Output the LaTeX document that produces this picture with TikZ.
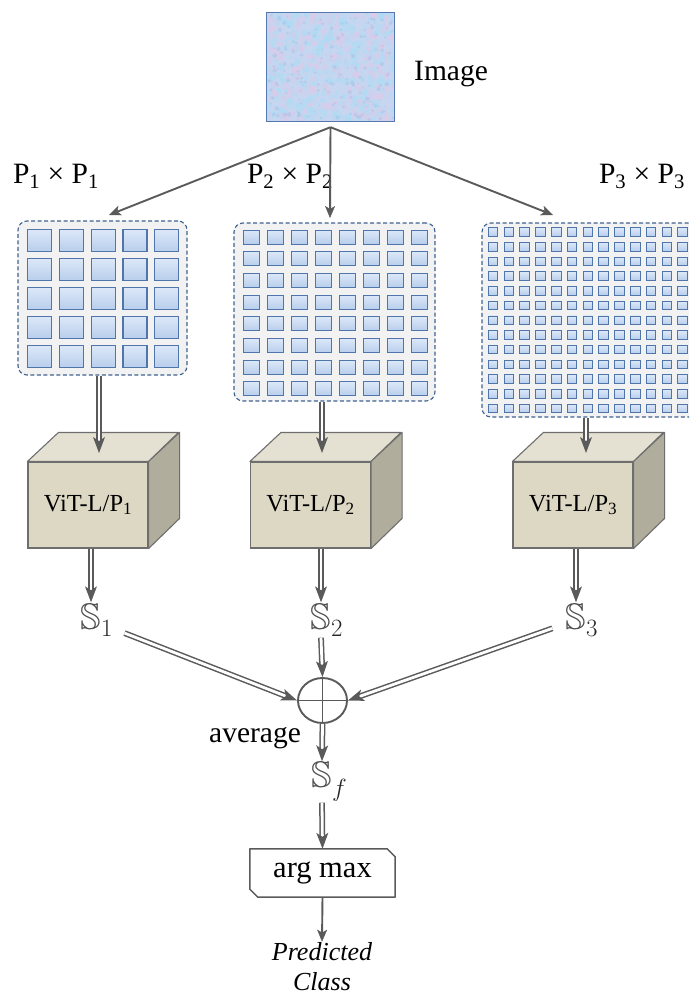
\documentclass[tikz,border=0pt]{standalone}
\usepackage{amssymb}
\usepackage{mathtools}
\usepackage{fontspec}
\setmainfont{Liberation Serif}
\usetikzlibrary{arrows.meta,shapes.geometric,calc,decorations.markings}
\definecolor{ag}{HTML}{5A5A5A}
\definecolor{boxb}{HTML}{3E6290}
\definecolor{boxf}{HTML}{F2F2F2}
\definecolor{sqb}{HTML}{4F75AA}
\definecolor{sqt}{HTML}{DCE8F8}
\definecolor{sqd}{HTML}{B8CEEC}
\definecolor{cfront}{HTML}{DDD8C4}
\definecolor{ctop}{HTML}{E4E1D2}
\definecolor{cside}{HTML}{B1AD9D}
\definecolor{cedge}{HTML}{6E6E6E}
\definecolor{imgb}{HTML}{5578B0}
\definecolor{imgf}{HTML}{C6D6F0}
\definecolor{blobA}{HTML}{ADDCF4}
\definecolor{blobB}{HTML}{E2C8E8}
\definecolor{blobC}{HTML}{9FB8E2}
\definecolor{symc}{HTML}{505050}
\tikzset{
  lbl/.style={font=\fontsize{29.5}{33}\selectfont, inner sep=1pt},
  pbox/.style={draw=boxb, fill=boxf, line width=1.1pt, dash pattern=on 4pt off 2.5pt, rounded corners=9pt, inner sep=0pt},
  sqr/.style={draw=sqb, line width=1pt, top color=sqt, bottom color=sqd, inner sep=0pt},
  cubefront/.style={draw=cedge, fill=cfront, line width=1.1pt, minimum width=120, minimum height=86, inner sep=0pt, font=\fontsize{24.5}{27}\selectfont},
  cubetop/.style={draw=cedge, fill=ctop, line width=1.1pt, line join=round},
  cubeside/.style={draw=cedge, fill=cside, line width=1.1pt, line join=round},
  dbl/.style={draw=ag, line width=1.5pt, double=white, double distance=2.8pt, shorten >=12pt,
    postaction={decorate}, decoration={markings, mark=at position 1 with {
      \fill[ag] (0pt,0pt) -- (-16pt,6pt) -- (-12pt,0pt) -- (-16pt,-6pt) -- cycle;}}},
  sar/.style={draw=ag, line width=1.9pt, -{Stealth[length=12pt,width=10pt,inset=3pt,line width=0.4pt]}},
  snode/.style={font=\fontsize{37}{40}\selectfont, text=symc, inner sep=1pt},
}
\begin{document}
\begin{tikzpicture}[x=1pt,y=-1pt]
\useasboundingbox (0,0) rectangle (689,996);
\clip (0,0) rectangle (689,996);

% ---- input image
\node[fill=imgf, minimum width=127, minimum height=108, inner sep=0pt] (img) at (330.5,67) {};
\begin{scope}
  \clip (img.north west) rectangle (img.south east);
  \pgfmathsetseed{12}
  \foreach \k in {1,...,380}{
    \pgfmathsetmacro{\qa}{267+127*rnd}
    \pgfmathsetmacro{\qb}{13+108*rnd}
    \pgfmathsetmacro{\qc}{1+3*rnd}
    \fill[blobA, opacity=0.5] (\qa,\qb) circle[radius=\qc];
  }
  \foreach \k in {1,...,260}{
    \pgfmathsetmacro{\qa}{267+127*rnd}
    \pgfmathsetmacro{\qb}{13+108*rnd}
    \pgfmathsetmacro{\qc}{1+3*rnd}
    \fill[blobB, opacity=0.45] (\qa,\qb) circle[radius=\qc];
  }
  \foreach \k in {1,...,200}{
    \pgfmathsetmacro{\qa}{267+127*rnd}
    \pgfmathsetmacro{\qb}{13+108*rnd}
    \pgfmathsetmacro{\qc}{0.6+1.6*rnd}
    \fill[blobC, opacity=0.35] (\qa,\qb) circle[radius=\qc];
  }
\end{scope}
\draw[imgb, line width=1.1pt] (img.north west) rectangle (img.south east);
\node[lbl, anchor=base west] (imglbl) at (413,80) {Image};

% ---- patch boxes
\node[pbox, minimum width=169, minimum height=154] (box1) at (102.5,298) {};
\node[pbox, minimum width=201, minimum height=178] (box2) at (334.5,312) {};
\node[pbox, minimum width=222, minimum height=194] (box3) at (593,320) {};
\foreach \i in {0,...,4}{\foreach \j in {0,...,4}{
  \node[sqr, line width=1.2pt, minimum width=24, minimum height=22] at ({39.5+31.8*\i},{240.5+29*\j}) {};}}
\foreach \i in {0,...,7}{\foreach \j in {0,...,7}{
  \node[sqr, minimum width=16, minimum height=14] at ({251+24*\i},{237+21.7*\j}) {};}}
\foreach \i in {0,...,13}{\foreach \j in {0,...,12}{
  \node[sqr, line width=0.9pt, minimum width=9.5, minimum height=8.5] at ({493+15.8*\i},{232+14.7*\j}) {};}}

\node[lbl, anchor=base] (p1) at (56,183) {P\textsubscript{1} × P\textsubscript{1}};
\node[lbl, anchor=base] (p2) at (290,183) {P\textsubscript{2} × P\textsubscript{2}};
\node[lbl, anchor=base] (p3) at (642,183) {P\textsubscript{3} × P\textsubscript{3}};

% ---- arrows from the image
\coordinate (fork) at ($(img.south)+(0,6)$);
\coordinate (tip1) at (109,215);
\coordinate (tip2) at (330,218);
\coordinate (tip3) at (553,215);
\draw[sar] (fork) -- (tip1);
\draw[sar] (fork) -- (tip2);
\draw[sar] (fork) -- (tip3);

% ---- cubes
\node[cubefront] (cube1) at (88,505) {ViT-L/P\textsubscript{1}};
\node[cubefront] (cube2) at (310.5,505) {ViT-L/P\textsubscript{2}};
\node[cubefront] (cube3) at (573,505) {ViT-L/P\textsubscript{3}};
\foreach \c in {cube1,cube2,cube3}{
  \draw[cubetop] (\c.north west) -- ++(31,-29) -- ++(120,0) -- (\c.north east) -- cycle;
  \draw[cubeside] (\c.north east) -- ++(31,-29) -- ++(0,86) -- (\c.south east) -- cycle;
}

% ---- arrows into the cubes
\coordinate (in1) at (99,453);
\coordinate (in2) at (322,453);
\coordinate (in3) at (586,453);
\draw[dbl] (box1.south -| in1) -- (in1);
\draw[dbl] (box2.south -| in2) -- (in2);
\draw[dbl] (box3.south -| in3) -- (in3);

% ---- score symbols
\node[snode] (s1) at (91,620) {$\mathbb{S}_{\mathrlap{\color{black!85}1}}$};
\node[snode] (s2) at (321,620) {$\mathbb{S}_{\mathrlap{\color{black!85}2}}$};
\node[snode] (s3) at (576,620) {$\mathbb{S}_{\mathrlap{\color{black!85}3}}$};
\draw[dbl] (cube1.south -| s1.north) -- (s1.north);
\draw[dbl] (cube2.south -| s2.north) -- (s2.north);
\draw[dbl] (cube3.south -| s3.north) -- (s3.north);

% ---- average
\node[ellipse, draw=ag, line width=1.9pt, minimum width=49, minimum height=45, inner sep=0pt] (ox) at (322.5,700.5) {};
\draw[ag, line width=1.9pt] (ox.north) -- (ox.south) (ox.west) -- (ox.east);
\draw[dbl, shorten <=36pt] (s1.center) -- (ox.west);
\draw[dbl, shorten <=25pt] (s3.center) -- (ox.east);
\draw[dbl] (s2.south) -- (ox.north);
\node[lbl, anchor=base] (avgl) at (255,742) {average};

\node[snode] (sf) at (322,782) {$\mathbb{S}_{\mathrlap{\color{black!85}f}}$};
\draw[dbl] (ox.south) -- (sf.north);

% ---- argmax
\node[lbl, font=\fontsize{30.5}{34}\selectfont, minimum width=145, minimum height=48, inner sep=0pt] (am) at (322.5,873) {arg max};
\draw[ag, line width=1.5pt, line join=round] (am.north west) -- ($(am.north east)+(-8,0)$) -- ($(am.north east)+(0,8)$) -- (am.south east) -- ($(am.south west)+(8,0)$) -- ($(am.south west)+(0,-8)$) -- cycle;
\draw[dbl] (sf.south) -- (am.north);

\node[font=\fontsize{26}{30}\selectfont\itshape, align=center, inner sep=1pt] (pc) at (322,967) {Predicted\\Class};
\draw[sar] (am.south) -- (pc.north);
\end{tikzpicture}
\end{document}
